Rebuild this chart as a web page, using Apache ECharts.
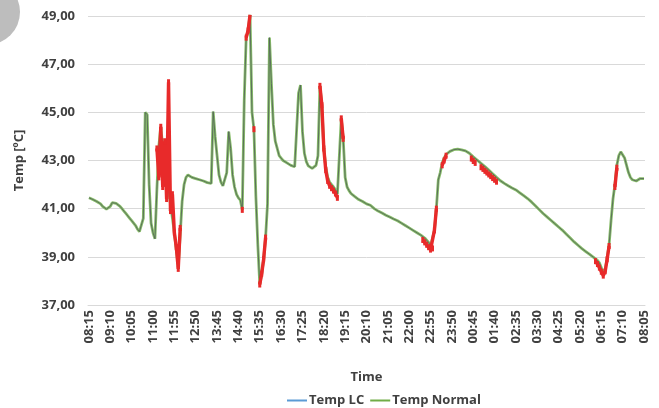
<!DOCTYPE html>
<html lang="en">
  <head>
    <meta charset="UTF-8" />
    <title>Temp</title>
    <style>
      * {
        padding: 0;
        margin: 0;
      }
      body {
        background: #fff;
      }
      #chart {
        width: 659px;
        height: 408px;
      }
    </style>
    <script src="https://cdn.jsdelivr.net/npm/echarts@6/dist/echarts.min.js"></script>
  </head>
  <body>
    <div id="chart"></div>
    <script type="text/javascript">
      // one reading every 5 minutes, 08:15 -> 08:05 next day
      const times = []
      for (let m = 8 * 60 + 15, n = 0; n < 287; n++, m += 5) {
        const t = m % 1440
        times.push(String(Math.floor(t / 60)).padStart(2, '0') + ':' + String(t % 60).padStart(2, '0'))
      }

      const yTicks = [37, 39, 41, 43, 45, 47, 49]

      const tempNormal = [
        41.45, 41.42, 41.38, 41.35, 41.30, 41.28, 41.20, 41.10, 41.02, 40.98,
        41.00, 41.10, 41.25, 41.30, 41.22, 41.15, 41.10, 41.00, 40.90, 40.80,
        40.70, 40.60, 40.50, 40.40, 40.30, 40.15, 40.05, 39.97, 40.60, 45.00,
        44.90, 42.00, 40.40, 40.00, 39.75, 41.80, 43.60, 44.40, 43.60, 43.00,
        42.40, 41.80, 41.20, 40.60, 40.00, 39.30, 38.60, 39.90, 41.30, 42.00,
        42.30, 42.40, 42.35, 42.30, 42.25, 42.25, 42.20, 42.20, 42.15, 42.15,
        42.10, 42.08, 42.05, 42.05, 45.03, 44.00, 43.20, 42.40, 42.10, 41.95,
        41.87, 42.50, 44.20, 43.50, 42.40, 41.90, 41.60, 41.45, 41.35, 40.95,
        45.50, 48.10, 48.40, 49.05, 45.00, 44.30, 41.50, 39.50, 37.85, 38.30,
        38.90, 39.80, 41.20, 48.10, 46.20, 44.50, 43.80, 43.50, 43.20, 43.10,
        43.00, 42.95, 42.90, 42.85, 42.80, 42.76, 42.74, 42.80, 45.80, 46.13,
        44.20, 43.30, 42.95, 42.78, 42.70, 42.67, 42.70, 42.80, 43.20, 46.10,
        45.30, 43.50, 42.74, 42.30, 42.10, 42.00, 41.90, 41.78, 41.60, 41.55,
        44.75, 43.90, 42.30, 41.90, 41.75, 41.63, 41.55, 41.50, 41.45, 41.38,
        41.33, 41.30, 41.25, 41.20, 41.17, 41.14, 41.08, 41.00, 40.95, 40.90,
        40.86, 40.82, 40.78, 40.73, 40.70, 40.65, 40.60, 40.57, 40.54, 40.50,
        40.45, 40.40, 40.35, 40.30, 40.25, 40.20, 40.15, 40.10, 40.06, 40.00,
        39.95, 39.90, 39.85, 39.78, 39.70, 39.60, 39.45, 39.50, 40.10, 41.00,
        42.20, 42.50, 42.90, 43.10, 43.25, 43.32, 43.38, 43.42, 43.45, 43.47,
        43.47, 43.46, 43.44, 43.42, 43.40, 43.36, 43.30, 43.22, 43.15, 43.08,
        43.02, 42.95, 42.88, 42.82, 42.75, 42.68, 42.60, 42.53, 42.45, 42.38,
        42.30, 42.23, 42.16, 42.10, 42.05, 42.00, 41.95, 41.90, 41.86, 41.82,
        41.78, 41.72, 41.66, 41.60, 41.54, 41.48, 41.42, 41.36, 41.28, 41.20,
        41.12, 41.04, 40.96, 40.88, 40.80, 40.73, 40.66, 40.59, 40.52, 40.45,
        40.38, 40.31, 40.24, 40.17, 40.10, 40.02, 39.94, 39.86, 39.78, 39.70,
        39.62, 39.55, 39.48, 39.40, 39.34, 39.28, 39.22, 39.16, 39.10, 39.04,
        38.98, 38.93, 38.85, 38.75, 38.55, 38.30, 38.50, 38.95, 39.50, 40.50,
        41.40, 42.00, 42.80, 43.20, 43.36, 43.30, 43.10, 42.80, 42.50, 42.30,
        42.20, 42.15, 42.15, 42.15, 42.25, 42.30, 42.25,
      ]
      // LC trace lies on top of the normal trace in the picture
      const tempLC = tempNormal.slice()

      // red highlighted readings (index into times, value)
      const alarmIndex = [
        35, 36, 37, 38, 39, 40, 41, 42, 43, 44, 45, 46, 47,
        79, 81, 82, 83, 85, 88, 89, 90, 91,
        119, 120, 121, 122, 123, 124, 125, 126, 127, 128, 130, 131,
        172, 173, 174, 175, 176, 177, 178, 179, 182, 183, 184,
        197, 198, 199, 202, 203, 204, 205, 206, 207, 208, 209, 210,
        261, 262, 263, 264, 265, 266, 267, 268, 271, 272,
      ]
      const alarmValue = [
        43.5, 42.3, 44.4, 41.9, 43.8, 41.4, 46.25, 40.9, 41.6, 40.0, 39.4, 38.5, 40.2,
        40.95, 48.1, 48.4, 49.05, 44.3, 37.85, 38.3, 38.9, 39.8,
        46.1, 45.3, 43.5, 42.6, 42.15, 41.95, 41.85, 41.75, 41.63, 41.45, 44.75, 43.9,
        39.7, 39.6, 39.5, 39.4, 39.3, 39.35, 40.1, 41.0, 42.8, 43.0, 43.2,
        43.08, 42.98, 42.9, 42.72, 42.65, 42.57, 42.5, 42.42, 42.35, 42.27, 42.2, 42.12,
        38.82, 38.7, 38.55, 38.38, 38.22, 38.4, 38.9, 39.45, 41.9, 42.7,
      ]

      const alarmData = times.map(() => '-')
      alarmIndex.forEach((k, j) => {
        alarmData[k] = alarmValue[j]
      })

      const txt = '#404040'
      const font = 'Open Sans'

      const chart = echarts.init(document.getElementById('chart'))
      const option = {
        animation: false,
        backgroundColor: '#fff',
        graphic: [
          {
            type: 'circle',
            shape: { cx: -13, cy: 12, r: 33 },
            style: { fill: '#bdbdbd' },
            z: 100,
          },
        ],
        grid: { left: 88, right: 14, top: 16, bottom: 103 },
        legend: {
          left: 282,
          top: 389,
          icon: 'rect',
          itemWidth: 20,
          itemHeight: 2,
          itemGap: 6,
          textStyle: { color: txt, fontFamily: font, fontWeight: 'bold', fontSize: 13, padding: [0, 0, 0, -3] },
          data: [
            { name: 'Temp LC', itemStyle: { color: '#5b9bd5' } },
            { name: 'Temp Normal', itemStyle: { color: '#70ad47' } },
          ],
        },
        xAxis: {
          type: 'category',
          data: times,
          boundaryGap: true,
          name: 'Time',
          nameLocation: 'middle',
          nameGap: 66,
          nameTextStyle: { color: txt, fontFamily: font, fontWeight: 'bold', fontSize: 13 },
          axisLine: { lineStyle: { color: '#d9d9d9' } },
          axisTick: { show: false },
          axisLabel: {
            interval: 10,
            rotate: 90,
            color: txt,
            fontFamily: font,
            fontWeight: 'bold',
            fontSize: 13,
            margin: 5,
          },
        },
        yAxis: {
          type: 'value',
          min: yTicks[0],
          max: yTicks[yTicks.length - 1],
          interval: 2,
          name: 'Temp [ºC]',
          nameLocation: 'middle',
          nameGap: 62,
          nameTextStyle: { color: txt, fontFamily: font, fontWeight: 'bold', fontSize: 13 },
          axisLine: { show: false },
          axisTick: { show: false },
          splitLine: { lineStyle: { color: '#d9d9d9', width: 1 } },
          axisLabel: {
            color: txt,
            fontFamily: font,
            fontWeight: 'bold',
            fontSize: 13,
            margin: 13,
            formatter: (v) => v.toFixed(2).replace('.', ','),
          },
        },
        series: [
          {
            name: 'Temp Normal',
            type: 'line',
            data: tempNormal,
            showSymbol: false,
            lineStyle: { color: '#88bd6a', width: 2.8 },
            itemStyle: { color: '#70ad47' },
          },
          {
            name: 'Temp LC',
            type: 'line',
            data: tempLC,
            showSymbol: false,
            lineStyle: { color: '#56665a', width: 0.9 },
            itemStyle: { color: '#5b9bd5' },
          },
          {
            name: 'Alarm',
            type: 'line',
            data: alarmData,
            symbol: 'rect',
            symbolSize: [3, 6],
            showAllSymbol: true,
            lineStyle: { color: '#e82a2a', width: 3.4 },
            itemStyle: { color: '#e82a2a' },
          },
        ],
      }
      chart.setOption(option)
    </script>
  </body>
</html>
